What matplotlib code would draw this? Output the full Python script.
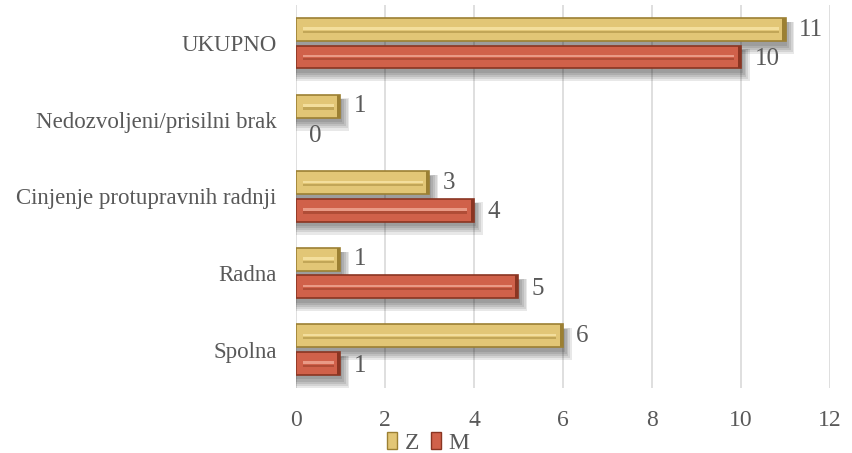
import numpy as np
import matplotlib.pyplot as plt

plt.rcParams['font.family'] = ['Liberation Serif', 'DejaVu Serif']

# kategorije odozdo prema gore
kategorije = ['Spolna', 'Radna', 'Cinjenje protupravnih radnji',
              'Nedozvoljeni/prisilni brak', 'UKUPNO']
z_vrijednosti = [6, 1, 3, 1, 11]
m_vrijednosti = [1, 5, 4, 0, 10]
xticks = [0, 2, 4, 6, 8, 10, 12]

TEXT = '#595959'
Z_FACE, Z_EDGE, Z_HI = '#E2C676', '#9C8033', '#F3DE9C'
M_FACE, M_EDGE, M_HI = '#D0614A', '#8A3522', '#E99A86'

fig = plt.figure(figsize=(8.52, 4.53), dpi=100)
ax = fig.add_axes([0.3474, 0.1435, 0.6268, 0.8455])

y = np.arange(len(kategorije))
h = 0.30
off = 0.179


def draw_bars(pos, vals, face, edge, hi):
    vals = np.asarray(vals, dtype=float)
    ima = vals > 0
    # sjena (mekani rub slaganjem prozirnih slojeva)
    for k in range(5):
        ax.barh(pos - 0.06 - 0.012 * k, np.where(ima, vals + 0.04 + 0.04 * k, 0),
                height=h + 0.03 * k, left=0, color='#000000', alpha=0.09,
                linewidth=0, zorder=2)
    ax.barh(pos, vals, height=h, color=face, edgecolor=edge,
            linewidth=np.where(ima, 1.2, 0), zorder=3)
    # srednja svijetla linija (efekt reljefa)
    inner = np.where(ima, vals - 0.3, 0)
    ax.barh(pos + 0.012, inner, height=0.035, left=np.where(ima, 0.15, 0),
            color=hi, linewidth=0, zorder=4)
    ax.barh(pos - 0.03, inner, height=0.03, left=np.where(ima, 0.15, 0),
            color=edge, alpha=0.45, linewidth=0, zorder=4)
    # tamni rub desno
    ax.barh(pos, np.where(ima, 0.07, 0), height=h, left=vals - 0.07,
            color=edge, linewidth=0, zorder=4)


draw_bars(y + off, z_vrijednosti, Z_FACE, Z_EDGE, Z_HI)
draw_bars(y - off, m_vrijednosti, M_FACE, M_EDGE, M_HI)

for yi, v in zip(y + off, z_vrijednosti):
    ax.text(v + 0.3, yi, str(v), va='center', ha='left', fontsize=18, color=TEXT)
for yi, v in zip(y - off, m_vrijednosti):
    ax.text(v + 0.3, yi - 0.03, str(v), va='center', ha='left', fontsize=18, color=TEXT)

ax.set_xlim(0, 12)
ax.set_ylim(-0.5, len(kategorije) - 0.5)
ax.set_xticks(xticks)
ax.set_yticks(y)
ax.set_yticklabels(kategorije)
ax.tick_params(axis='x', length=0, pad=16, labelsize=17, labelcolor=TEXT)
ax.tick_params(axis='y', length=0, pad=14, labelsize=16.5, labelcolor=TEXT)
ax.grid(axis='x', color='#D9D9D9', linewidth=1.2, zorder=0)
ax.set_axisbelow(True)
for s in ax.spines.values():
    s.set_visible(False)

hz = plt.Rectangle((0, 0), 1, 1, facecolor=Z_FACE, edgecolor=Z_EDGE)
hm = plt.Rectangle((0, 0), 1, 1, facecolor=M_FACE, edgecolor=M_EDGE)
fig.legend([hz, hm], ['Z', 'M'], loc='center', bbox_to_anchor=(428 / 852, 1 - 443 / 453),
           ncol=2, frameon=False, fontsize=17, handlelength=0.45, handleheight=0.7,
           handletextpad=0.3, columnspacing=0.5, labelcolor=TEXT,
           borderpad=0.1)

fig.savefig('out.png', dpi=100)
